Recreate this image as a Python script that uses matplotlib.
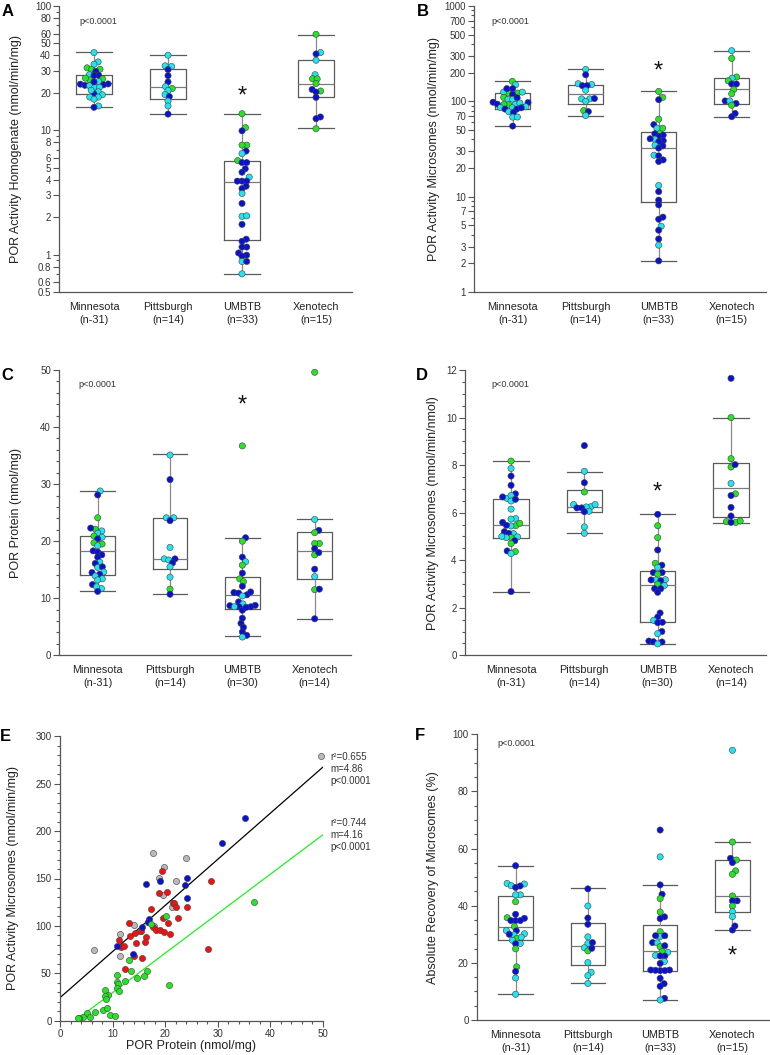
import numpy as np
import matplotlib
matplotlib.use('Agg')
import matplotlib.pyplot as plt
from matplotlib.ticker import FixedLocator, NullFormatter, FuncFormatter, MultipleLocator

plt.rcParams['font.family'] = ['Liberation Sans', 'DejaVu Sans']

W, H = 770, 1055
COL = {'g': '#26e326', 'c': '#22e3ee', 'b': '#0a12d2', 'r': '#f01212', 'k': '#b8b8b8'}

groups = ['Minnesota', 'Pittsburgh', 'UMBTB', 'Xenotech']
n_ab = ['(n-31)', '(n=14)', '(n=33)', '(n=15)']
n_cd = ['(n-31)', '(n=14)', '(n=30)', '(n=14)']

# ---- A: POR activity homogenate
a_min = [42.2, 35.5, 34, 31.8, 31, 30.8, 29.8, 28, 27.7, 27.5, 25.9, 25.4, 26.3, 24.7, 23.6, 23.5,
         23.2, 23, 22.8, 22.2, 22.2, 20.4, 19.6, 19.3, 18.5, 18.5, 17.8, 15.7, 15.3, 24.5, 21]
a_min_c = 'cccgggbcbbgggcbbbbccccbcccccbbc'
a_pit = [40.2, 33, 32.6, 30.8, 27.5, 24.5, 22.5, 21.7, 20.9, 19.4, 18.7, 17.2, 15.7, 13.5]
a_pit_c = 'cccbbbcgccbccb'
a_umb = [13.6, 10.5, 9.9, 7.6, 7.6, 6.8, 6.5, 5.7, 5.5, 5.5, 4.9, 4.6, 4.2, 3.9, 3.9, 3.9, 3.55,
         3.4, 3.1, 2.58, 2.03, 2.05, 1.75, 1.33, 1.28, 1.15, 1.15, 1.03, 0.99, 0.97, 0.88, 0.88, 0.70]
a_umb_c = 'ggbggbcgbbbbcbbbbbcbccbbbbbbbbcbc'
a_xen = [59.2, 42.2, 41.1, 36.6, 28, 26, 25.9, 23.8, 20.7, 21.3, 20.3, 18.4, 12.8, 12.4, 10.3]
a_xen_c = 'gcbccggggbbbbbg'
a_box = [(15.3, 19.6, 24.1, 28, 42.4), (13.5, 18, 22.1, 30.9, 40.2),
         (0.70, 1.30, 3.86, 5.65, 13.6), (10.4, 18.5, 23.5, 36.6, 58.9)]

# ---- B: POR activity microsomes
b_min = [162, 149, 122, 122, 125, 136, 136, 125, 118, 110, 105, 105, 109, 92, 93, 93, 96, 97, 98,
         93.5, 85.5, 86, 87.7, 82.8, 83, 85.5, 77.7, 76.4, 68.3, 68.5, 55]
b_min_c = 'gcggcbbcbgccbggccbbbcccbbbcbccb'
b_pit = [216, 190, 153, 150, 146, 146, 131, 106, 106, 107, 100, 80, 78, 71]
b_pit_c = 'cbccbbcccbcgbc'
b_umb = [127, 110, 104, 65, 57, 47.8, 52.3, 52.3, 45.7, 44.2, 42.8, 40.1, 38.6, 37.6, 34.7, 34.1,
         32.3, 27.2, 26.8, 24.3, 23.4, 13.1, 11.3, 9.2, 8.2, 6.1, 5.8, 4.9, 4.45, 3.6, 3.1, 2.12, 40.5]
b_umb_c = 'ggbgbggcbbbcbbcbbcbbbcbbbbbcbbcbb'
b_xen = [340, 282, 180, 175, 164, 152, 152, 133, 120, 101, 101, 95, 91, 74.6, 69]
b_xen_c = 'cggcgbbggbcbgbb'
b_box = [(55, 84, 93, 122, 162), (71, 94, 120, 149, 216),
         (2.1, 8.7, 32.5, 47.8, 127), (69, 94, 135, 174, 337)]

# ---- C: POR protein
c_min = [28.8, 28.1, 24.1, 22.1, 22.3, 21.8, 21.4, 20.7, 20.9, 20.4, 19.7, 19.5, 19.2, 18.3, 18.1,
         17.6, 17.2, 16.3, 16.1, 15.4, 15.5, 14.6, 14.5, 14.2, 13.9, 13.4, 13.2, 12.4, 11.7, 12.0, 11.2]
c_min_c = 'cbggbcccgbggcbbbbcbcbcbbcccbccb'
c_pit = [35.1, 30.8, 24.1, 24.1, 23.6, 18.9, 16.9, 16.7, 16.9, 16.2, 15.5, 13.7, 11.6, 10.7]
c_pit_c = 'cbccbcccbbccgb'
c_umb = [36.7, 20.6, 20.0, 17.2, 16.4, 15.8, 14.4, 13.4, 12.9, 12.1, 11.0, 10.9, 10.6, 10.4, 9.35,
         9.0, 8.76, 8.5, 8.7, 8.5, 7.9, 8.5, 6.5, 5.6, 4.9, 4.1, 3.5, 3.2, 11.1, 8.4]
c_umb_c = 'gbgbcgbggbbbbcbcbbbbbcbbbbbcbb'
c_xen = [49.6, 23.8, 21.9, 21.5, 19.6, 19.6, 18.7, 17.6, 18.0, 15.1, 13.8, 11.5, 11.6, 6.4]
c_xen_c = 'gcbgggbgbbcgbb'
c_box = [(11.2, 14.1, 18.2, 20.9, 28.8), (10.7, 15.1, 16.8, 24.1, 35.2),
         (3.3, 8.2, 10.5, 13.7, 20.6), (6.3, 13.3, 18.2, 21.6, 23.8)]

# ---- D: POR activity microsomes per nmol
d_min = [8.17, 7.86, 7.54, 7.15, 6.79, 6.6, 6.72, 6.49, 6.56, 6.66, 6.15, 5.75, 5.73, 5.59, 5.45,
         5.55, 5.44, 5.47, 5.2, 5.12, 5.13, 4.95, 4.95, 4.98, 4.82, 4.7, 4.36, 4.39, 4.28, 2.68, 5.0]
d_min_c = 'gcbbbcccbbcccbggcbbcbgccbggbcbc'
d_pit = [8.82, 7.74, 7.26, 6.87, 6.25, 6.24, 6.34, 6.34, 6.2, 6.2, 6.06, 6.04, 5.4, 5.13]
d_pit_c = 'bcbgccccbbcbcc'
d_umb = [5.93, 5.45, 4.95, 4.43, 3.87, 3.79, 3.7, 3.48, 3.48, 3.41, 3.18, 3.17, 3.17, 3.14, 2.99,
         2.93, 2.8, 2.8, 2.65, 1.78, 1.61, 1.47, 1.39, 1.37, 1.0, 0.91, 0.6, 0.57, 0.56, 0.48]
d_umb_c = 'bggbgbcbbgccbbgcbbbbbcbbbcbbbc'
d_xen = [11.65, 10.0, 8.27, 7.92, 8.02, 7.23, 6.79, 6.72, 6.22, 5.86, 5.59, 5.62, 5.59, 5.65]
d_xen_c = 'bgggbcgbbbggbg'
d_box = [(2.68, 4.95, 5.47, 6.59, 8.19), (5.13, 6.04, 6.22, 6.97, 7.72),
         (0.48, 1.39, 2.94, 3.55, 5.94), (5.57, 5.8, 7.02, 8.08, 10.0)]

# ---- E: activity vs protein
e_grey_x = [49.7, 17.7, 23.9, 19.7, 18.8, 19.6, 22.0, 21.4, 14.0, 11.5, 11.5, 6.4, 17.9, 16.7, 15.2]
e_grey_y = [279.6, 176.6, 172, 162, 151, 132.6, 147.4, 120.3, 101, 91.1, 68.2, 74.6, 99.5, 103.8, 95]
e_blue_x = [35.2, 30.8, 24.1, 19.0, 16.4, 23.7, 24.1, 16.9, 15.6, 10.8, 13.8, 16.7]
e_blue_y = [213.9, 187.5, 150.5, 147.4, 144.2, 142.8, 129.8, 106.9, 98.8, 78.4, 70.7, 104.5]
e_red_x = [19.4, 28.8, 18.9, 20.4, 21.5, 21.7, 22.1, 24.2, 17.4, 19.6, 22.4, 20.6, 13.2, 13.4, 14.2,
           15.4, 17.7, 18.2, 19.0, 19.8, 20.9, 16.4, 14.5, 16.1, 11.3, 11.7, 12.2, 14.1, 15.6, 12.4, 28.2]
e_red_y = [158.3, 147.7, 135, 135.8, 124.5, 124.5, 120.3, 120, 118.2, 108.7, 108, 102.7, 103.4, 89.7,
           92.5, 94.6, 98.5, 95.7, 95.3, 93.2, 91.1, 88.6, 81.6, 82.7, 85.1, 77.7, 79.1, 67.9, 66.5, 54.5, 75.6]
e_green_x = [36.9, 20.2, 17.4, 13.1, 10.8, 13.5, 16.5, 14.6, 16.0, 12.3, 10.8, 11.1, 20.7, 10.8, 11.2,
             8.5, 9.2, 8.5, 8.8, 8.1, 8.9, 6.7, 5.2, 9.5, 10.5, 4.3, 3.6, 5.7, 3.4]
e_green_y = [125.6, 110.1, 102.4, 64, 47.8, 52.4, 52.4, 45.4, 47.5, 42.2, 40.4, 38.3, 37.3, 34.1, 31.7,
             32.4, 27.4, 26.4, 23.2, 11.6, 13, 9.5, 8.4, 6.3, 4.9, 4.2, 3.2, 3.5, 2.5]
fit_all = (4.86, 24.3, 0.0, 50.0)     # slope, intercept, x from, x to
fit_green = (4.16, -12.0, 4.3, 50.0)
fit_all_txt = 'r\u00b2=0.655\nm=4.86\np<0.0001'
fit_green_txt = 'r\u00b2=0.744\nm=4.16\np<0.0001'

# ---- F: recovery
f_min = [54.0, 47.8, 47.6, 47.0, 46.9, 46.4, 43.8, 43.8, 41.4, 37.0, 35.8, 35.6, 34.8, 34.8, 34.8,
         32.7, 31.3, 31.2, 30.2, 29.8, 30, 28.5, 27.9, 26.8, 26.7, 24.9, 18.6, 17.0, 14.7, 9.0, 29.0]
f_min_c = 'bcccbbccgbgbbbbgcbccbgccbggbccc'
f_pit = [45.9, 39.9, 35.7, 33.5, 29.1, 26.8, 27.1, 25.3, 24.2, 25.1, 20.1, 16.7, 15.5, 12.8]
f_pit_c = 'bcbbccbcgbcccc'
f_umb = [66.5, 57.1, 47.3, 44, 42.5, 37.8, 36.1, 35.5, 30.9, 29.2, 29.5, 29.5, 27.1, 27.0, 25.7, 26,
         22.6, 23.7, 23.9, 22.4, 22.4, 20.5, 19.8, 17.5, 17.3, 17.3, 17.4, 14.6, 12.7, 11.8, 7.6, 7.0, 17.5]
f_umb_c = 'bcbbggbbgcbbbcgbccgbbcbbbbbbbbbcb'
f_xen = [94.4, 62.3, 56.6, 56, 55.1, 52.2, 51, 43.4, 41.7, 41.7, 39.9, 37.9, 36.2, 32.9, 31.5]
f_xen_c = 'cgbgbgggbbgccbb'
f_box = [(9.0, 27.9, 32.7, 43.4, 54.0), (12.8, 19.1, 25.9, 34.1, 46.1),
         (6.9, 17.3, 24.0, 33.1, 47.4), (31.6, 37.8, 43.3, 55.9, 62.3)]

SPINE = '#555555'
DOT = 4.7  # spacing between dot centres in pixels for the swarm (dots may overlap a little)

fig = plt.figure(figsize=(W / 100, H / 100), dpi=100)


def rect(l, t, r, b):
    return [l / W, 1 - b / H, (r - l) / W, (b - t) / H]


def style(ax):
    for s in ('top', 'right'):
        ax.spines[s].set_visible(False)
    for s in ('left', 'bottom'):
        ax.spines[s].set_color(SPINE)
        ax.spines[s].set_linewidth(0.9)
    ax.tick_params(which='both', direction='out', color=SPINE, width=0.8,
                   labelsize=7, labelcolor='#333333', pad=2)
    ax.tick_params(which='major', length=4)
    ax.tick_params(which='minor', length=2)


def swarm(ax, x0, vals):
    # simple beeswarm in display pixels
    pts = ax.transData.transform(np.column_stack([np.full(len(vals), x0), vals]))
    ys = pts[:, 1]
    placed, offs = [], np.zeros(len(vals))
    for i in np.argsort(ys):
        y = ys[i]
        cands = [0.0]
        for px, py in placed:
            dy = y - py
            if abs(dy) < DOT:
                dx = np.sqrt(DOT ** 2 - dy ** 2)
                cands += [px + dx, px - dx]
        cands.sort(key=abs)
        for c in cands:
            if all((c - px) ** 2 + (y - py) ** 2 >= DOT ** 2 - 1e-6 for px, py in placed):
                break
        placed.append((c, y))
        offs[i] = c
    unit = ax.transData.transform([[1, 1]])[0][0] - ax.transData.transform([[0, 1]])[0][0]
    return x0 + offs / unit


def cat_panel(r, xlim, vals, cols, boxes, nlab, ylim, ylabel, ylab_x, star, log=False,
              major=None, minor=None):
    ax = fig.add_axes(rect(*r))
    if log:
        ax.set_yscale('log')
    ax.set_xlim(*xlim)
    ax.set_ylim(*ylim)
    style(ax)
    if log:
        ax.yaxis.set_major_locator(FixedLocator(major))
        ax.yaxis.set_minor_locator(FixedLocator(minor))
        ax.yaxis.set_major_formatter(FuncFormatter(lambda v, p: f'{v:g}'))
        ax.yaxis.set_minor_formatter(NullFormatter())
    else:
        ax.yaxis.set_major_locator(MultipleLocator(major))
        ax.yaxis.set_minor_locator(MultipleLocator(minor))
    stats = [dict(whislo=b[0], q1=b[1], med=b[2], q3=b[3], whishi=b[4], fliers=[]) for b in boxes]
    ax.bxp(stats, positions=[1, 2, 3, 4], widths=0.48, capwidths=0.48, showfliers=False,
           boxprops=dict(color='#5a5a5a', linewidth=0.9),
           whiskerprops=dict(color='#8a8a8a', linewidth=0.9),
           capprops=dict(color='#5a5a5a', linewidth=0.9),
           medianprops=dict(color='#7a7a7a', linewidth=0.9), zorder=1)
    for i, (v, c) in enumerate(zip(vals, cols)):
        xs = swarm(ax, i + 1, v)
        ax.scatter(xs, v, s=20, c=[COL[k] for k in c], edgecolors='#404040',
                   linewidths=0.4, zorder=3, clip_on=False)
    ax.set_xticks([1, 2, 3, 4], [f'{g}\n{n}' for g, n in zip(groups, nlab)])
    ax.tick_params(axis='x', which='both', length=0, pad=7, labelsize=7.8, labelcolor='#222222')
    for t in ax.get_xticklabels():
        t.set_linespacing(1.35)
    ax.set_ylabel(ylabel, fontsize=9, color='#222222')
    ax.yaxis.set_label_coords(ylab_x, 0.5)
    ax.annotate('*', (star[0], star[1]), xytext=(0, -13), textcoords='offset pixels',
                ha='center', va='baseline', fontsize=17, color='#111111')
    return ax


log_a_major = [0.5, 0.6, 0.8, 1, 2, 3, 4, 5, 6, 8, 10, 20, 30, 40, 50, 60, 80, 100]
log_a_minor = [0.7, 0.9, 7, 9, 70, 90]
log_b_major = [1, 2, 3, 5, 7, 10, 20, 30, 50, 70, 100, 200, 300, 500, 700, 1000]
log_b_minor = [4, 6, 8, 9, 40, 60, 80, 90, 400, 600, 800, 900]

cat_panel((59.3, 6, 352, 292), (0.531, 4.486), [a_min, a_pit, a_umb, a_xen],
          [a_min_c, a_pit_c, a_umb_c, a_xen_c], a_box, n_ab, (0.5, 100),
          'POR Activity Homogenate (nmol/min/mg)', -0.127, (3, 21.4), log=True,
          major=log_a_major, minor=log_a_minor)
cat_panel((474.3, 6, 766, 292), (0.474, 4.47), [b_min, b_pit, b_umb, b_xen],
          [b_min_c, b_pit_c, b_umb_c, b_xen_c], b_box, n_ab, (1, 1000),
          'POR Activity Microsomes (nmol/min/mg)', -0.118, (3, 244), log=True,
          major=log_b_major, minor=log_b_minor)
cat_panel((59.3, 370, 350.7, 655.3), (0.469, 4.498), [c_min, c_pit, c_umb, c_xen],
          [c_min_c, c_pit_c, c_umb_c, c_xen_c], c_box, n_cd, (0, 50),
          'POR Protein (nmol/mg)', -0.127, (3, 45.0), major=10, minor=2)
cat_panel((465, 370, 766, 655.3), (0.372, 4.477), [d_min, d_pit, d_umb, d_xen],
          [d_min_c, d_pit_c, d_umb_c, d_xen_c], d_box, n_cd, (0, 12),
          'POR Activity Microsomes (nmol/min/nmol)', -0.088, (3, 7.12), major=2, minor=0.5)
cat_panel((477, 734.3, 769, 1020), (0.466, 4.506), [f_min, f_pit, f_umb, f_xen],
          [f_min_c, f_pit_c, f_umb_c, f_xen_c], f_box, n_ab, (0, 100),
          'Absolute Recovery of Microsomes (%)', -0.13, (4, 24.7), major=20, minor=5)

# ---- panel E
ax = fig.add_axes(rect(60, 736.3, 322.7, 1020.7))
ax.set_xlim(0, 50)
ax.set_ylim(0, 300)
style(ax)
ax.xaxis.set_major_locator(MultipleLocator(10))
ax.xaxis.set_minor_locator(MultipleLocator(2))
ax.yaxis.set_major_locator(MultipleLocator(50))
ax.yaxis.set_minor_locator(MultipleLocator(10))
for xs, ys, k in [(e_grey_x, e_grey_y, 'k'), (e_red_x, e_red_y, 'r'),
                  (e_blue_x, e_blue_y, 'b'), (e_green_x, e_green_y, 'g')]:
    ax.scatter(xs, ys, s=20, c=COL[k], edgecolors='#404040', linewidths=0.4,
               zorder=3, clip_on=False)
for (m, b0, x1, x2), lc in [(fit_all, '#000000'), (fit_green, '#22ee22')]:
    xx = np.array([x1, x2])
    ax.plot(xx, m * xx + b0, color=lc, linewidth=0.9, zorder=2)
ax.text(51.4, 265, fit_all_txt, fontsize=7, color='#333333', va='center', ha='left',
        linespacing=1.25)
ax.text(51.4, 196, fit_green_txt, fontsize=7, color='#333333', va='center', ha='left',
        linespacing=1.25)
ax.set_xlabel('POR Protein (nmol/mg)', fontsize=9, color='#222222', labelpad=1)
ax.set_ylabel('POR Activity Microsomes (nmol/min/mg)', fontsize=9, color='#222222')
ax.yaxis.set_label_coords(-0.156, 0.5)

# ---- panel letters and p-values
for lab, x, y in [('A', 7.5, 12), ('B', 422.5, 11), ('C', 7, 376), ('D', 421.7, 376),
                  ('E', 5.5, 736.5), ('F', 420, 735)]:
    fig.text(x / W, 1 - y / H, lab, fontsize=12, fontweight='bold', ha='center', va='center')
for x, y in [(98.3, 21.7), (510.3, 21), (97.7, 384.3), (510.3, 384.3), (516.7, 744)]:
    fig.text(x / W, 1 - y / H, 'p<0.0001', fontsize=6.5, color='#333333', ha='center', va='center')

fig.savefig('out.png', dpi=100)
